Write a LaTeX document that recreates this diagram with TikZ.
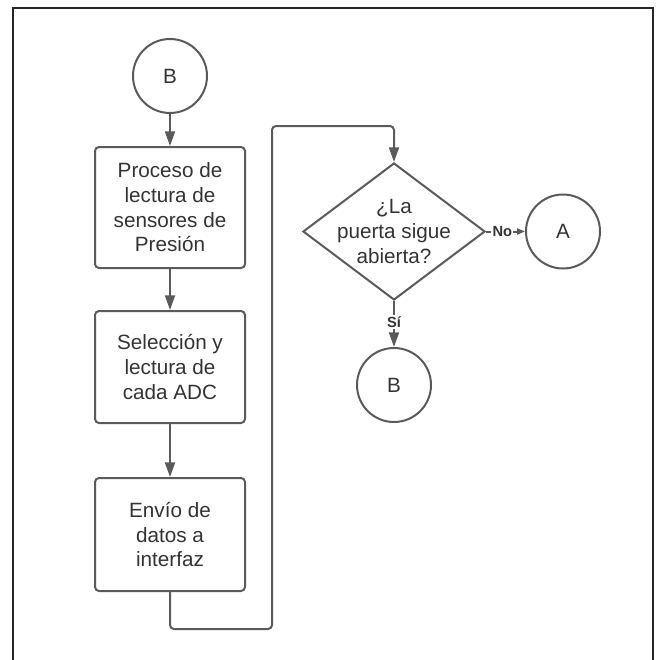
\documentclass[tikz,border=0pt]{standalone}
\usepackage{fontspec}
\setmainfont{Liberation Sans}
\usetikzlibrary{shapes.geometric,arrows.meta}

\definecolor{linegray}{HTML}{5A5A5A}
\definecolor{textgray}{HTML}{333333}

\tikzset{
  base/.style={draw=linegray, line width=1.5pt, text=textgray, font=\fontsize{15.5}{18.5}\selectfont, align=center, inner sep=0pt},
  connector/.style={base, shape=circle, minimum size=55.5pt},
  process/.style={base, shape=rectangle, rounded corners=3pt, minimum width=112.5pt},
  decision/.style={base, shape=diamond, minimum width=136.5pt, minimum height=102.75pt},
  flow/.style={draw=linegray, line width=1.5pt, -{Triangle[length=11pt,width=7.5pt]}},
  answer/.style={fill=white, text=textgray, inner sep=1pt, font=\fontsize{11}{13}\selectfont\bfseries}
}

\begin{document}
\begin{tikzpicture}[x=0.75pt,y=-0.75pt]
  \useasboundingbox (0,0) rectangle (657,660);
  \draw[black!85, line width=1.2pt] (13,660) -- (13,8) -- (653,8) -- (653,660);

  \node[connector] (b1) at (170,76) {B};
  \node[process, minimum height=90.75pt] (p1) at (170,207.5) {Proceso de\\lectura de\\sensores de\\Presión};
  \node[process, minimum height=84pt] (p2) at (170,367) {Selección y\\lectura de\\cada ADC};
  \node[process, minimum height=84.75pt] (p3) at (170,534.5) {Envío de\\datos a\\interfaz};

  \node[decision, label={[text=textgray, align=center, font=\fontsize{15.5}{18.5}\selectfont]center:{¿La\\puerta sigue\\abierta?}}] (q) at (394,231.5) {};
  \node[connector] (a) at (563,231.5) {A};
  \node[connector] (b2) at (394,385) {B};

  \coordinate (c1) at (272,629);
  \coordinate (c2) at (272,126);

  \draw[flow] (b1) -- (p1);
  \draw[flow] (p1) -- (p2);
  \draw[flow] (p2) -- (p3);
  \draw[flow, rounded corners=3pt] (p3.south) |- (c1) -- (c2) -| (q.north);
  \draw[flow, -{Triangle[length=6pt,width=4.5pt]}] (q.east) -- node[answer, pos=0.42] {No} (a.west);
  \draw[flow] (q.south) -- node[answer, pos=0.46] {Sí} (b2.north);
\end{tikzpicture}
\end{document}
